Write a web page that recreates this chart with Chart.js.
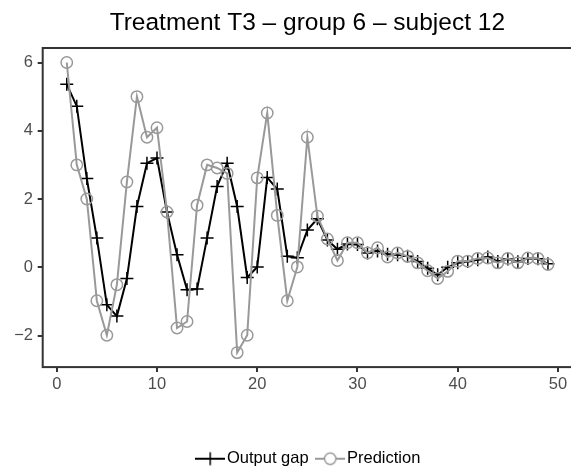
<!DOCTYPE html>
<html>
<head>
<meta charset="utf-8">
<script src="https://cdn.jsdelivr.net/npm/chart.js@4.4.1/dist/chart.umd.min.js"></script>
<style>
  html, body { margin: 0; padding: 0; background: #fff; overflow: hidden; }
  #wrap { width: 571px; height: 466px; overflow: hidden; }
  canvas { display: block; }
</style>
</head>
<body>
<div id="wrap"><canvas id="chart" width="572" height="477" style="width:572px;height:477px"></canvas></div>
<script>
// Treatment T3 - group 6 - subject 12
const titleText = 'Treatment T3 \u2013 group 6 \u2013 subject 12';
const seriesNames = ['Output gap', 'Prediction'];

const periods = [1, 2, 3, 4, 5, 6, 7, 8, 9, 10, 11, 12, 13, 14, 15, 16, 17, 18, 19, 20,
  21, 22, 23, 24, 25, 26, 27, 28, 29, 30, 31, 32, 33, 34, 35, 36, 37, 38, 39, 40,
  41, 42, 43, 44, 45, 46, 47, 48, 49];

const outputGap = [5.36, 4.72, 2.6, 0.86, -1.1, -1.43, -0.33, 1.78, 3.05, 3.2,
  1.62, 0.37, -0.66, -0.64, 0.86, 2.37, 3.05, 1.78, -0.3, 0.01,
  2.63, 2.29, 0.32, 0.28, 1.09, 1.42, 0.8, 0.53, 0.68, 0.67,
  0.42, 0.48, 0.38, 0.37, 0.32, 0.17, -0.03, -0.22, 0.0, 0.13,
  0.17, 0.22, 0.3, 0.17, 0.24, 0.16, 0.26, 0.25, 0.1];

const prediction = [6.0, 3.0, 2.0, -0.98, -1.99, -0.51, 2.5, 5.0, 3.81, 4.09,
  1.62, -1.78, -1.59, 1.82, 3.0, 2.91, 2.75, -2.5, -1.99, 2.62,
  4.52, 1.52, -0.98, 0.01, 3.81, 1.5, 0.83, 0.2, 0.72, 0.72,
  0.42, 0.57, 0.3, 0.42, 0.32, 0.13, -0.1, -0.33, -0.12, 0.18,
  0.18, 0.26, 0.27, 0.13, 0.26, 0.13, 0.27, 0.26, 0.08];

const xTicks = [0, 10, 20, 30, 40, 50];
const xTickLabels = ['0', '10', '20', '30', '40', '50'];
const yTicks = [-2, 0, 2, 4, 6];
const yTickLabels = ['\u22122', '0', '2', '4', '6'];

const BLACK = '#000000';
const GREY = '#999999';
const AXIS = '#333333';
const TICK_TEXT = '#4D4D4D';

Chart.defaults.font.family = "'Liberation Sans', Arial, sans-serif";

// legend key: short line with the marker on top, like ggplot
function makeKey(color, marker) {
  const c = document.createElement('canvas');
  c.width = 30;
  c.height = 16;
  const g = c.getContext('2d');
  g.strokeStyle = color;
  g.lineWidth = 2;
  g.beginPath();
  g.moveTo(0, 8);
  g.lineTo(30, 8);
  g.stroke();
  g.lineWidth = 1.5;
  g.beginPath();
  if (marker === 'cross') {
    g.moveTo(15 - 6.5, 8);
    g.lineTo(15 + 6.5, 8);
    g.moveTo(15, 8 - 6.5);
    g.lineTo(15, 8 + 6.5);
  } else {
    g.fillStyle = '#fff';
    g.arc(15, 8, 5.7, 0, Math.PI * 2);
    g.fill();
  }
  g.stroke();
  return c;
}

const keys = [makeKey(BLACK, 'cross'), makeKey(GREY, 'circle')];

const toPoints = (ys) => periods.map((x, i) => ({ x: x, y: ys[i] }));

// panel border drawn over the data
const panelBorder = {
  id: 'panelBorder',
  afterDatasetsDraw(chart) {
    const { ctx, chartArea: a } = chart;
    ctx.save();
    ctx.strokeStyle = AXIS;
    ctx.lineWidth = 2;
    ctx.strokeRect(a.left, a.top, a.right - a.left, a.bottom - a.top);
    ctx.restore();
  }
};

// nudge the legend row a little to the right, as in the original
const legendNudge = {
  id: 'legendNudge',
  afterLayout(chart) {
    chart.legend.left += 3.7;
    chart.legend.right += 3.7;
  }
};

const ctx = document.getElementById('chart').getContext('2d');
new Chart(ctx, {
  type: 'line',
  data: {
    datasets: [{
      label: seriesNames[0],
      data: toPoints(outputGap),
      borderColor: BLACK,
      borderWidth: 2,
      pointStyle: 'cross',
      pointRadius: 6.5,
      pointBorderWidth: 1.5,
      pointBorderColor: BLACK,
      tension: 0,
      order: 1
    }, {
      label: seriesNames[1],
      data: toPoints(prediction),
      borderColor: GREY,
      borderWidth: 2,
      pointStyle: 'circle',
      pointRadius: 5.7,
      pointBorderWidth: 1.5,
      pointBorderColor: GREY,
      pointBackgroundColor: 'rgba(0,0,0,0)',
      tension: 0,
      order: 0
    }]
  },
  options: {
    responsive: false,
    animation: false,
    layout: { padding: 0, autoPadding: false },
    plugins: {
      title: {
        display: true,
        text: titleText,
        color: '#000',
        fullSize: false,
        font: { size: 24.5, weight: 'normal', lineHeight: 1.2 },
        padding: { top: 8.5, bottom: 10.1 }
      },
      legend: {
        display: true,
        position: 'bottom',
        fullSize: false,
        labels: {
          usePointStyle: true,
          pointStyleWidth: 17,
          padding: 13.1,
          color: '#000',
          font: { size: 16.5 },
          sort: (a, b) => a.datasetIndex - b.datasetIndex,
          generateLabels(chart) {
            const items = Chart.defaults.plugins.legend.labels.generateLabels(chart);
            items.forEach((it) => { it.pointStyle = keys[it.datasetIndex]; });
            return items;
          }
        }
      },
      tooltip: { enabled: false }
    },
    scales: {
      x: {
        type: 'linear',
        min: -1.4,
        max: 51.4,
        afterBuildTicks(scale) {
          scale.ticks = xTicks.map((v) => ({ value: v }));
        },
        afterFit(scale) {
          scale.height = 70.3;
        },
        ticks: {
          color: TICK_TEXT,
          font: { size: 16.5 },
          padding: 2,
          maxRotation: 0,
          autoSkip: false,
          callback: (v) => xTickLabels[xTicks.indexOf(v)]
        },
        grid: {
          drawOnChartArea: false,
          drawTicks: true,
          tickLength: 5,
          color: AXIS,
          lineWidth: 2
        },
        border: { display: false }
      },
      y: {
        type: 'linear',
        min: -2.925,
        max: 6.425,
        afterBuildTicks(scale) {
          scale.ticks = yTicks.map((v) => ({ value: v }));
        },
        afterFit(scale) {
          scale.width = 42.7;
        },
        ticks: {
          color: TICK_TEXT,
          font: { size: 16.5 },
          padding: 4.7,
          autoSkip: false,
          callback: (v) => yTickLabels[yTicks.indexOf(v)]
        },
        grid: {
          drawOnChartArea: false,
          drawTicks: true,
          tickLength: 5,
          color: AXIS,
          lineWidth: 2
        },
        border: { display: false }
      }
    }
  },
  plugins: [panelBorder, legendNudge]
});
</script>
</body>
</html>
